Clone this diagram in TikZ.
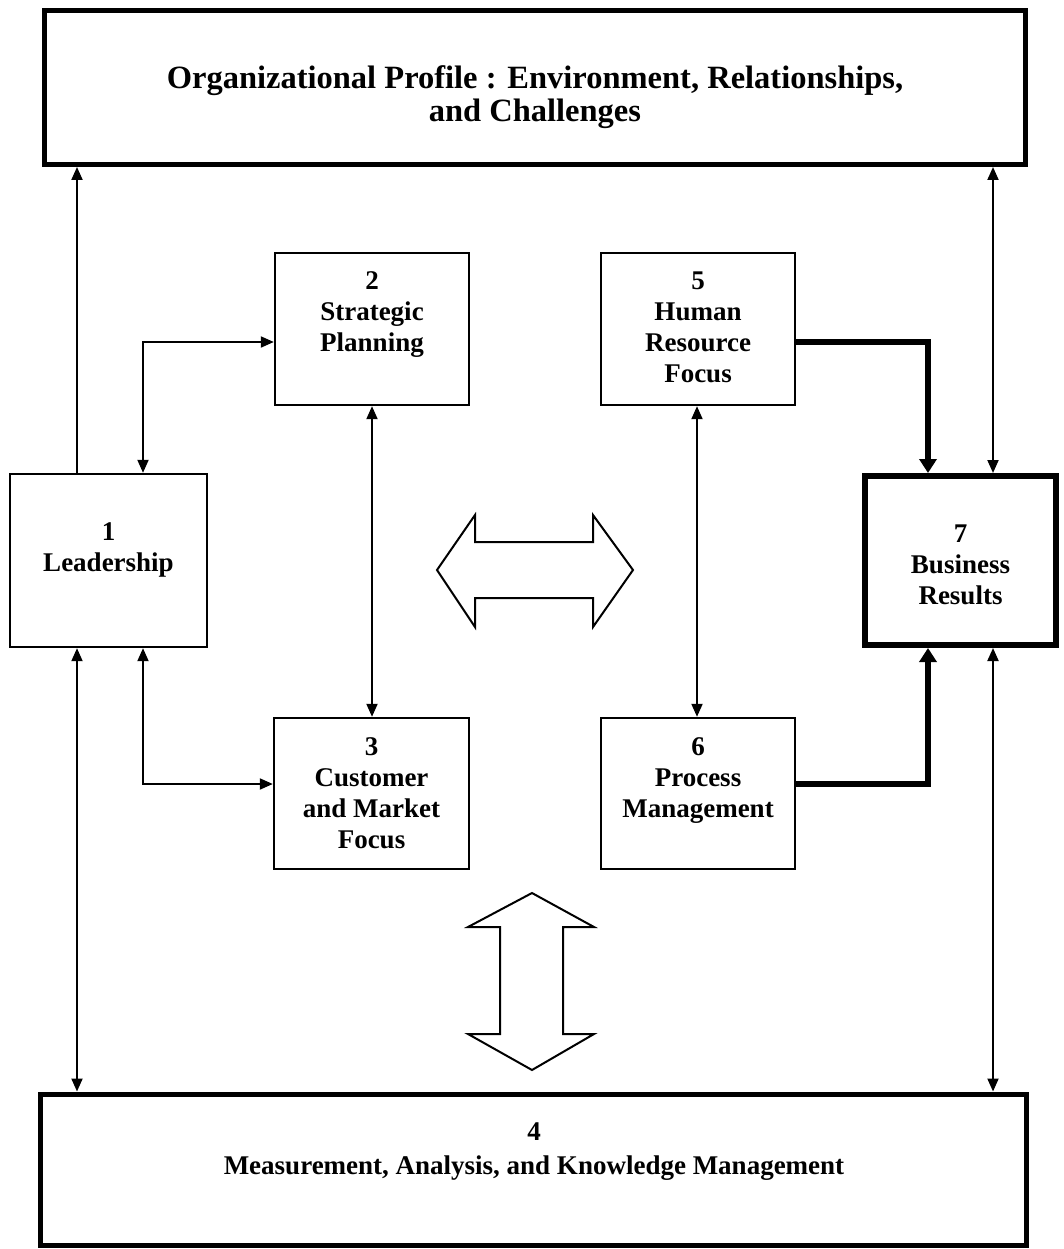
\documentclass[tikz,border=0pt]{standalone}
\usepackage{fontspec}
\setmainfont{Liberation Serif}
\usetikzlibrary{arrows.meta}
\begin{document}
\begin{tikzpicture}[x=1pt,y=-1pt,
  box/.style={draw, line width=2.4pt, inner sep=0pt},
  heavybox/.style={draw, line width=5pt, inner sep=0pt},
  boldbox/.style={draw, line width=6pt, inner sep=0pt},
  lbl/.style={font=\bfseries\fontsize{27}{31}\selectfont, align=center, inner sep=0pt},
  titlelbl/.style={font=\bfseries\fontsize{32.5}{33}\selectfont, align=center, inner sep=0pt},
  baselbl/.style={font=\bfseries\fontsize{27}{34}\selectfont, align=center, inner sep=0pt},
  oneway/.style={line width=2pt, -{Triangle[length=13pt,width=11pt]}},
  twoway/.style={line width=2pt, {Triangle[length=13pt,width=11pt]}-{Triangle[length=13pt,width=11pt]}},
  heavyarrow/.style={line width=5.5pt, -{Triangle[length=14pt,width=17pt]}},
  blockarrow/.style={draw, line width=2pt, line join=miter, fill=white}]
\useasboundingbox (0,0) rectangle (1064,1249);

% outer frames
\node[heavybox, minimum width=981pt, minimum height=154pt] (top) at (535,87.5) {};
\node[titlelbl] (top-t) at (535,97) {Organizational Profile : Environment, Relationships,\\and Challenges};
\node[heavybox, minimum width=986pt, minimum height=151pt] (meas) at (533,1169.5) {};
\node[baselbl] (meas-t) at (534,1152) {4\\Measurement, Analysis, and Knowledge Management};

% category boxes
\node[box, minimum width=197pt, minimum height=173pt] (lead) at (108.5,560.5) {};
\node[lbl] (lead-t) at (108.5,550) {1\\Leadership};
\node[box, minimum width=194pt, minimum height=152pt] (strat) at (372,329) {};
\node[lbl] (strat-t) at (372,315) {2\\Strategic\\Planning};
\node[box, minimum width=195pt, minimum height=151pt] (cust) at (371.5,793.5) {};
\node[lbl] (cust-t) at (371.5,793.5) {3\\Customer\\and Market\\Focus};
\node[box, minimum width=194pt, minimum height=152pt] (hr) at (698,329) {};
\node[lbl] (hr-t) at (698,327) {5\\Human\\Resource\\Focus};
\node[box, minimum width=194pt, minimum height=151pt] (proc) at (698,793.5) {};
\node[lbl] (proc-t) at (698,781) {6\\Process\\Management};
\node[boldbox, minimum width=191pt, minimum height=169pt] (biz) at (960.5,560.5) {};
\node[lbl] (biz-t) at (960.5,565) {7\\Business\\Results};

% connector columns and rows
\coordinate (xa) at (77,0);
\coordinate (xb) at (143,0);
\coordinate (xc) at (372,0);
\coordinate (xd) at (697,0);
\coordinate (xe) at (928,0);
\coordinate (xf) at (993,0);
\coordinate (ya) at (0,342);
\coordinate (yb) at (0,784);

% connectors
\draw[oneway] (lead.north -| xa) -- (top.south -| xa);
\draw[twoway] (lead.north -| xb) |- (strat.west |- ya);
\draw[twoway] (lead.south -| xb) |- (cust.west |- yb);
\draw[twoway] (lead.south -| xa) -- (meas.north -| xa);
\draw[twoway] (strat.south -| xc) -- (cust.north -| xc);
\draw[twoway] (hr.south -| xd) -- (proc.north -| xd);
\draw[heavyarrow] (hr.east |- ya) -| (biz.north -| xe);
\draw[heavyarrow] (proc.east |- yb) -| (biz.south -| xe);
\draw[twoway] (biz.north -| xf) -- (top.south -| xf);
\draw[twoway] (biz.south -| xf) -- (meas.north -| xf);

% hollow block arrows
\draw[blockarrow] (437,570) -- (475,515) -- (475,542) -- (593,542) -- (593,515)
  -- (633,570) -- (593,627) -- (593,598) -- (475,598) -- (475,627) -- cycle;
\draw[blockarrow] (532,893) -- (594,927) -- (563,927) -- (563,1034) -- (594,1034)
  -- (532,1070) -- (468,1034) -- (500,1034) -- (500,927) -- (468,927) -- cycle;
\end{tikzpicture}
\end{document}
